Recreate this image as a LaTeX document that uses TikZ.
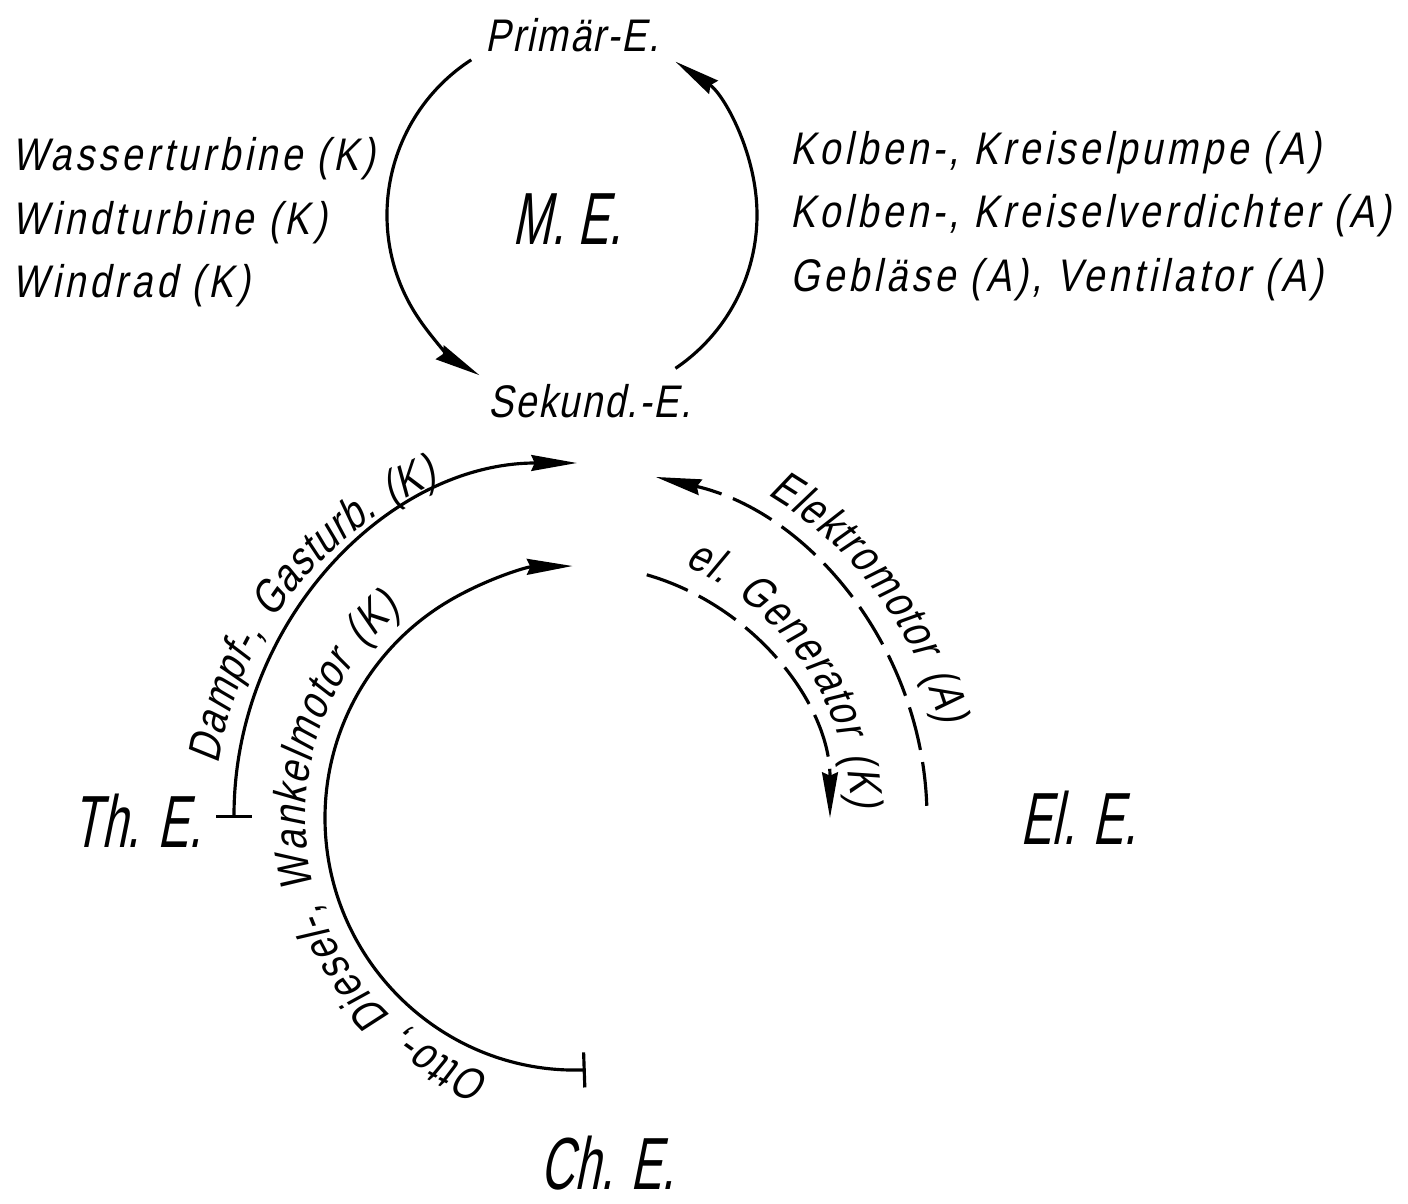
\documentclass[tikz,border=0pt]{standalone}
\usepackage{fontspec}
\setmainfont{Liberation Sans}[FakeStretch=0.82,FakeSlant=0.2,LetterSpace=9]
\newfontfamily\bigfont{Liberation Sans}[FakeStretch=0.63,FakeSlant=0.2]
\usetikzlibrary{arrows.meta,decorations.text}
\newcommand\lblfont{\fontsize{13}{15}\selectfont}
\begin{document}
\begin{tikzpicture}[x=0.01cm,y=0.01cm,
  every node/.style={inner sep=0pt,anchor=base west,font=\lblfont},
  big/.style={font=\bigfont\fontsize{21}{24}\selectfont},
  tight/.style={font=\lblfont\addfontfeatures{LetterSpace=4}},
  conv/.style={line width=0.9pt},
  tip/.style={-{Stealth[length=13pt,width=4.5pt,inset=1pt]}},
  bartip/.style={{Bar[width=10pt]}-{Stealth[length=13pt,width=4.5pt,inset=1pt]}},
  elline/.style={dash pattern=on 12.5pt off 3.5pt},
  bendlbl/.style={decorate,decoration={text along path,text align=center,raise=#1}}]
  \useasboundingbox (0,0) rectangle (1408,-1204);
  \coordinate (mc) at (572,-215);
  \coordinate (c) at (577,-818);
  \node[tight] (prim) at (485,-52) {Primär-E.};
  \node[tight] (sek) at (488,-418) {Sekund.-E.};
  \node[big] (me) at (512,-245) {M. E.};
  \node (wass) at (12,-171) {Wasserturbine (K)};
  \node (windt) at (12,-235) {Windturbine (K)};
  \node (windr) at (12,-298) {Windrad (K)};
  \node (kolbp) at (790,-165) {Kolben-, Kreiselpumpe (A)};
  \node (kolbv) at (790,-228) {Kolben-, Kreiselverdichter (A)};
  \node (gebl) at (790,-292) {Gebläse (A), Ventilator (A)};
  \node[big] (the) at (72,-848) {Th. E.};
  \node[big] (ele) at (1020,-845) {El. E.};
  \node[big] (che) at (540,-1190) {Ch. E.};
  \draw[conv,tip] ([shift={(123:185)}]mc) arc[start angle=123,end angle=240,radius=185];
  \draw[conv,tip] ([shift={(-56:185)}]mc) arc[start angle=-56,end angle=56,radius=185];
  \draw[conv,bartip] ([shift={(180:343)}]c) arc[start angle=180,end angle=90,x radius=343,y radius=355];
  \draw[conv,bartip] ([shift={(272:252)}]c) arc[start angle=272,end angle=91,radius=252];
  \draw[conv,elline,tip] ([shift={(2:350)}]c) arc[start angle=2,end angle=77,radius=350];
  \draw[conv,elline,tip] ([shift={(74:253)}]c) arc[start angle=74,end angle=0,radius=253];
  \path[bendlbl=5pt,decoration={text={|\lblfont|Dampf-, Gasturb. (K)}}]
    ([shift={(184:345)}]c) arc[start angle=184,end angle=100,radius=345];
  \path[bendlbl=5.5pt,decoration={text={|\lblfont|Otto-, Diesel-, Wankelmotor (K)}}]
    ([shift={(262:252)}]c) arc[start angle=262,end angle=120,radius=252];
  \path[bendlbl=7pt,decoration={text={|\lblfont|Elektromotor (A)}}]
    ([shift={(75:350)}]c) arc[start angle=75,end angle=-1,radius=350];
  \path[bendlbl=6pt,decoration={text={|\lblfont|el. Generator (K)}}]
    ([shift={(72:253)}]c) arc[start angle=72,end angle=-3,radius=253];
\end{tikzpicture}
\end{document}
